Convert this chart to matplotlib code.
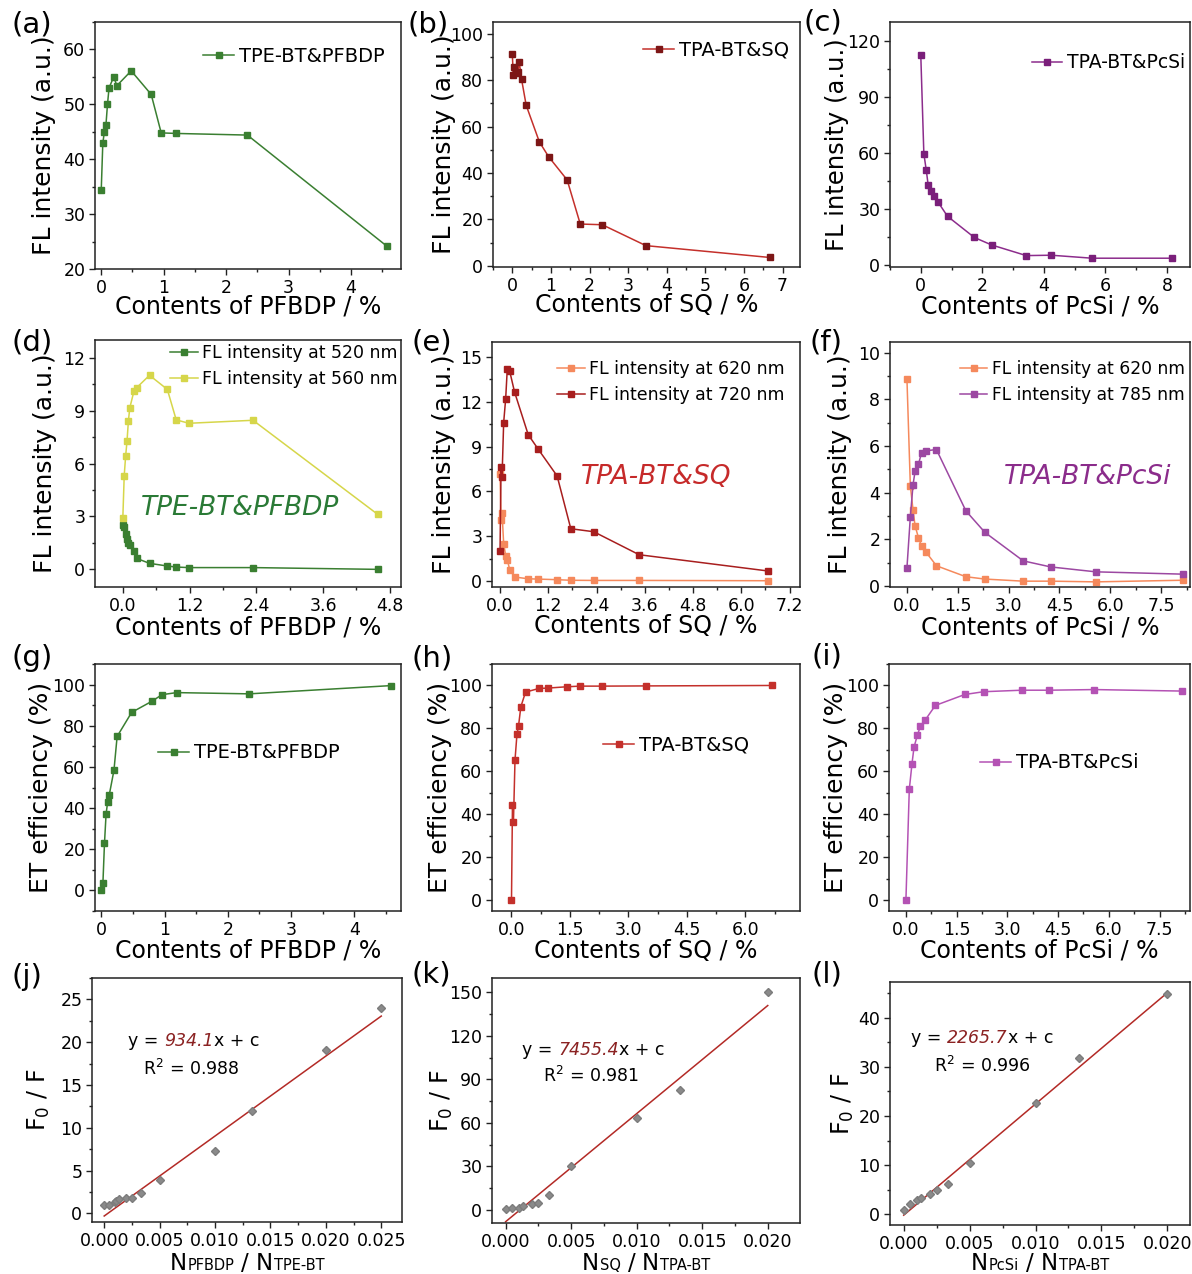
import numpy as np
import matplotlib
matplotlib.use("Agg")
import matplotlib.pyplot as plt
from matplotlib.ticker import MultipleLocator, FuncFormatter
from matplotlib.offsetbox import TextArea, HPacker, AnnotationBbox

plt.rcParams['font.family'] = ['DejaVu Sans']
plt.rcParams['mathtext.fontset'] = 'dejavusans'

W, H = 1192, 1274

# ---- values ----
# TPE-BT & PFBDP
pfbdp_content = [0, 0.025, 0.05, 0.075, 0.1, 0.125, 0.2, 0.25, 0.48, 0.8, 0.96, 1.19, 2.34, 4.58]
pfbdp_fl = [34.4, 42.9, 45.0, 46.2, 50.0, 53.0, 55.0, 53.4, 56.1, 51.8, 44.8, 44.7, 44.4, 24.1]
pfbdp_fl520 = [2.51, 2.40, 1.98, 1.70, 1.51, 1.38, 1.04, 0.62, 0.34, 0.19, 0.13, 0.10, 0.10, 0.0]
pfbdp_fl560 = [2.9, 5.3, 6.4, 7.25, 8.4, 9.15, 10.1, 10.3, 11.0, 10.2, 8.47, 8.28, 8.45, 3.12]
pfbdp_et = [0.2, 3.4, 22.9, 37.0, 43.0, 46.3, 58.4, 74.8, 86.5, 91.9, 95.1, 96.1, 95.5, 99.5]

# TPA-BT & SQ
sq_content = [0, 0.025, 0.05, 0.09, 0.14, 0.18, 0.24, 0.36, 0.70, 0.94, 1.42, 1.76, 2.33, 3.46, 6.67]
sq_fl = [91.1, 82.3, 85.5, 83.0, 83.5, 87.6, 80.3, 69.1, 53.4, 47.0, 37.0, 18.0, 17.7, 8.7, 3.6]
sq_fl620 = [7.19, 4.06, 4.58, 2.5, 1.7, 1.43, 0.76, 0.27, 0.15, 0.13, 0.09, 0.05, 0.04, 0.04, 0.02]
sq_fl720 = [2.0, 7.6, 6.96, 10.6, 12.2, 14.2, 14.05, 12.66, 9.8, 8.86, 7.03, 3.5, 3.3, 1.76, 0.67]
sq_et = [0, 44.2, 36.4, 65.3, 77.2, 81.1, 90.1, 96.9, 98.6, 98.8, 99.4, 99.7, 99.7, 99.8, 100.0]

# TPA-BT & PcSi
pcsi_content = [0, 0.1, 0.18, 0.24, 0.34, 0.43, 0.57, 0.87, 1.74, 2.3, 3.43, 4.24, 5.57, 8.15]
pcsi_fl = [112.6, 59.6, 50.6, 42.9, 39.7, 36.7, 33.5, 26.1, 14.8, 10.8, 5.1, 5.3, 3.7, 3.7]
pcsi_fl620 = [8.86, 4.29, 3.24, 2.57, 2.06, 1.70, 1.43, 0.86, 0.39, 0.29, 0.20, 0.20, 0.17, 0.24]
pcsi_fl785 = [0.77, 2.96, 4.34, 4.91, 5.21, 5.70, 5.79, 5.84, 3.21, 2.29, 1.07, 0.81, 0.60, 0.50]
pcsi_et = [0, 51.6, 63.6, 71.3, 76.9, 81.1, 83.9, 90.7, 95.8, 97.1, 97.8, 97.8, 98.1, 97.4]

# Stern-Volmer plots
pfbdp_ratio = [0, 0.00045, 0.00096, 0.00111, 0.00133, 0.002, 0.0025, 0.00333, 0.005, 0.01, 0.01333, 0.02, 0.025]
pfbdp_f0f = [0.97, 0.97, 1.28, 1.48, 1.63, 1.83, 1.83, 2.4, 3.89, 7.3, 12.0, 19.1, 23.95]
sq_ratio = [0, 0.0005, 0.001, 0.00133, 0.002, 0.0025, 0.00333, 0.005, 0.01, 0.01333, 0.02]
sq_f0f = [0.9, 1.4, 1.6, 2.8, 4.2, 5.1, 10.2, 30.0, 63.7, 82.4, 150.5]
pcsi_ratio = [0, 0.0005, 0.001, 0.00133, 0.002, 0.0025, 0.00333, 0.005, 0.01, 0.01333, 0.02]
pcsi_f0f = [0.95, 2.0, 2.85, 3.3, 4.2, 5.0, 6.1, 10.5, 22.7, 31.9, 44.9]

# linear fits (slope from the labels, intercept)
fit_slopes = [934.1, 7455.4, 2265.7]
fit_intercepts = [-0.3, -8.1, -0.2]
fit_r2 = ['0.988', '0.981', '0.996']

GREEN = '#3a7f31'
YELLOW = '#d6d64a'
ORANGE = '#f5895c'
MAROON = '#7d1616'
RED = '#c4302b'
DARKRED = '#a81e1e'
PURPLE = '#8c2c8c'
VIOLET = '#9c48a2'
MAGENTA = '#b452b4'
GREY = '#8a8a8a'
FITRED = '#b32a26'
AXCOL = '#222222'

fig = plt.figure(figsize=(W / 100, H / 100), dpi=100)


def px_axes(box):
    l, t, r, b = box
    return fig.add_axes([l / W, 1 - b / H, (r - l) / W, (b - t) / H])


def clean_fmt(dec):
    def f(v, pos):
        if abs(v) < 1e-12:
            v = 0.0
        return f'{v:.{dec}f}'
    return FuncFormatter(f)


def style(ax, xlim, ylim, xmaj, ymaj, xdec=0, ydec=0):
    ax.set_xlim(*xlim)
    ax.set_ylim(*ylim)
    ax.xaxis.set_major_locator(MultipleLocator(xmaj))
    ax.xaxis.set_minor_locator(MultipleLocator(xmaj / 2))
    ax.yaxis.set_major_locator(MultipleLocator(ymaj))
    ax.yaxis.set_minor_locator(MultipleLocator(ymaj / 2))
    ax.xaxis.set_major_formatter(clean_fmt(xdec))
    ax.yaxis.set_major_formatter(clean_fmt(ydec))
    ax.tick_params(which='both', direction='out', top=False, right=False,
                   width=1.0, color=AXCOL, labelsize=12.5, pad=2.5)
    ax.tick_params(which='major', length=4.5)
    ax.tick_params(which='minor', length=2.5)
    for sp in ax.spines.values():
        sp.set_linewidth(1.1)
        sp.set_color(AXCOL)


def ylab(ax, box, ylabel, yl_x, fsy=18):
    l, t, r, b = box
    ax.set_ylabel(ylabel, fontsize=fsy, va='center')
    ax.yaxis.set_label_coords((yl_x - l) / (r - l), 0.5)


def labels(ax, box, xlabel, xl_y, ylabel, yl_x, fsx=17, fsy=18):
    l, t, r, b = box
    ax.set_xlabel(xlabel, fontsize=fsx, va='center')
    ax.xaxis.set_label_coords(0.5, (b - xl_y) / (b - t))
    ylab(ax, box, ylabel, yl_x, fsy)


def ratio_xlabel(box, sub1, sub2, y_px):
    big = dict(fontsize=16.5)
    small = dict(fontsize=10.5)
    num = HPacker(children=[TextArea('N', textprops=big), TextArea(sub1, textprops=small)],
                  align='baseline', pad=0, sep=0.5)
    den = HPacker(children=[TextArea('N', textprops=big), TextArea(sub2, textprops=small)],
                  align='baseline', pad=0, sep=0.5)
    packed = HPacker(children=[num, TextArea('/', textprops=big), den],
                     align='baseline', pad=0, sep=5)
    xc = (box[0] + box[2]) / 2
    ab = AnnotationBbox(packed, (xc / W, 1 - y_px / H), xycoords='figure fraction',
                        frameon=False, box_alignment=(0.5, 0.5), pad=0)
    fig.add_artist(ab)


def series(ax, x, y, color, mcolor=None, label=None):
    mc = mcolor or color
    ax.plot(x, y, '-s', color=color, mfc=mc, mec=mc, ms=4.8, lw=1.1, label=label)


def legend(ax, x_px, y_px, fs):
    ax.legend(loc='center left', bbox_to_anchor=(x_px / W, 1 - y_px / H),
              bbox_transform=fig.transFigure, frameon=False, fontsize=fs,
              handlelength=1.6, handletextpad=0.25, borderpad=0,
              borderaxespad=0, labelspacing=0.45)


def panel_tag(tag, x_px, y_px):
    fig.text(x_px / W, 1 - y_px / H, tag, fontsize=21, ha='left', va='center')


def fit_text(ax, x_px, base1, slope_str, r2_x, base2, r2_str):
    fs = 12.5
    y1 = 1 - base1 / H
    t1 = ax.annotate('y =', xy=(x_px / W, y1), xycoords='figure fraction',
                     va='baseline', ha='left', fontsize=fs)
    t2 = ax.annotate(slope_str, xy=(1, y1), xycoords=(t1, 'figure fraction'),
                     xytext=(4, 0), textcoords='offset points', va='baseline',
                     ha='left', fontsize=fs, style='italic', color='#8b2222')
    ax.annotate('x + c', xy=(1, y1), xycoords=(t2, 'figure fraction'),
                xytext=(0.5, 0), textcoords='offset points', va='baseline',
                ha='left', fontsize=fs)
    ax.annotate(r'R$^2$ = ' + r2_str, xy=(r2_x / W, 1 - base2 / H),
                xycoords='figure fraction', va='baseline', ha='left', fontsize=fs)


FL = 'FL intensity (a.u.)'
ET = 'ET efficiency (%)'

# ---------- row 1 ----------
box = (95, 22, 401, 269)
ax = px_axes(box)
series(ax, pfbdp_content, pfbdp_fl, GREEN, label='TPE-BT&PFBDP')
style(ax, (-0.1, 4.8), (20, 65), 1, 10)
labels(ax, box, 'Contents of PFBDP / %', 307, FL, 44)
legend(ax, 203, 56, 14)
panel_tag('(a)', 11, 25)

box = (493, 22, 800, 267)
ax = px_axes(box)
series(ax, sq_content, sq_fl, RED, MAROON, label='TPA-BT&SQ')
style(ax, (-0.5, 7.45), (-0.5, 105), 1, 20)
labels(ax, box, 'Contents of SQ / %', 305, FL, 444)
legend(ax, 643, 50, 14)
panel_tag('(b)', 408, 24)

box = (890, 22, 1190, 267)
ax = px_axes(box)
series(ax, pcsi_content, pcsi_fl, PURPLE, '#7a1f7a', label='TPA-BT&PcSi')
style(ax, (-1, 8.75), (-1, 130), 2, 30)
labels(ax, box, 'Contents of PcSi / %', 307, FL, 837, fsy=17.5)
legend(ax, 1032, 63, 13.5)
panel_tag('(c)', 804, 23)

# ---------- row 2 ----------
box = (95, 340, 401, 587)
ax = px_axes(box)
series(ax, pfbdp_content, pfbdp_fl520, GREEN, label='FL intensity at 520 nm')
series(ax, pfbdp_content, pfbdp_fl560, YELLOW, label='FL intensity at 560 nm')
style(ax, (-0.5, 5.0), (-1, 13), 1.2, 3, xdec=1)
labels(ax, box, 'Contents of PFBDP / %', 627, FL, 45)
legend(ax, 170, 366, 12.5)
ax.text(240 / W, 1 - 508 / H, 'TPE-BT&PFBDP', transform=fig.transFigure,
        fontsize=19, style='italic', color='#2a7a36', ha='center', va='center')
panel_tag('(d)', 11, 342)

box = (492, 342, 800, 587)
ax = px_axes(box)
series(ax, sq_content, sq_fl620, ORANGE, label='FL intensity at 620 nm')
series(ax, sq_content, sq_fl720, DARKRED, label='FL intensity at 720 nm')
style(ax, (-0.2, 7.46), (-0.4, 16), 1.2, 3, xdec=1)
labels(ax, box, 'Contents of SQ / %', 626, FL, 444)
legend(ax, 557, 382, 12.5)
ax.text(656 / W, 1 - 477 / H, 'TPA-BT&SQ', transform=fig.transFigure,
        fontsize=19, style='italic', color='#c62a2a', ha='center', va='center')
panel_tag('(e)', 412, 342)

box = (890, 342, 1190, 587)
ax = px_axes(box)
series(ax, pcsi_content, pcsi_fl620, ORANGE, label='FL intensity at 620 nm')
series(ax, pcsi_content, pcsi_fl785, VIOLET, label='FL intensity at 785 nm')
style(ax, (-0.5, 8.35), (-0.05, 10.45), 1.5, 2, xdec=1)
labels(ax, box, 'Contents of PcSi / %', 627, FL, 840)
legend(ax, 960, 382, 12.3)
ax.text(1088 / W, 1 - 477 / H, 'TPA-BT&PcSi', transform=fig.transFigure,
        fontsize=19, style='italic', color='#8b2c8b', ha='center', va='center')
panel_tag('(f)', 810, 342)

# ---------- row 3 ----------
box = (95, 664, 401, 911)
ax = px_axes(box)
series(ax, pfbdp_content, pfbdp_et, GREEN, label='TPE-BT&PFBDP')
style(ax, (-0.1, 4.74), (-10, 110), 1, 20)
labels(ax, box, 'Contents of PFBDP / %', 950, ET, 41)
legend(ax, 158, 753, 14)
panel_tag('(g)', 11, 658)

box = (492, 664, 800, 911)
ax = px_axes(box)
series(ax, sq_content, sq_et, RED, label='TPA-BT&SQ')
style(ax, (-0.5, 7.4), (-5, 110), 1.5, 20, xdec=1)
labels(ax, box, 'Contents of SQ / %', 951, ET, 440)
legend(ax, 603, 745, 14)
panel_tag('(h)', 411, 658)

box = (889, 664, 1190, 911)
ax = px_axes(box)
series(ax, pcsi_content, pcsi_et, MAGENTA, label='TPA-BT&PcSi')
style(ax, (-0.5, 8.4), (-5, 110), 1.5, 20, xdec=1)
labels(ax, box, 'Contents of PcSi / %', 950, ET, 836)
legend(ax, 980, 763, 14)
panel_tag('(i)', 812, 657)

# ---------- row 4 ----------
sv_sets = [
    ((92, 978, 402, 1222), pfbdp_ratio, pfbdp_f0f, (-0.0011, 0.02687), (-1, 27.5), 5,
     ('PFBDP', 'TPE-BT'), 39, '(j)', (12, 977), (128, 1046, 143, 1075)),
    ((492, 978, 800, 1223), sq_ratio, sq_f0f, (-0.00104, 0.02246), (-9, 160), 30,
     ('SQ', 'TPA-BT'), 442, '(k)', (411, 974), (522, 1055, 543, 1082)),
    ((890, 982, 1190, 1225), pcsi_ratio, pcsi_f0f, (-0.00104, 0.02172), (-2.2, 47.3), 10,
     ('PcSi', 'TPA-BT'), 843, '(l)', (812, 975), (911, 1043, 934, 1072)),
]

for i, (box, xr, yr, xl, yl, ymaj, subs, ylx, tag, tagpos, tpos) in enumerate(sv_sets):
    ax = px_axes(box)
    xr = np.array(xr)
    ax.plot(xr, yr, 'D', ls='none', color=GREY, mec='#7c7c7c', ms=4.2, zorder=3)
    fx = np.array([xr.min(), xr.max()])
    ax.plot(fx, fit_slopes[i] * fx + fit_intercepts[i], '-', color=FITRED, lw=1.1, zorder=2)
    style(ax, xl, yl, 0.005, ymaj, xdec=3)
    ylab(ax, box, r'F$_0$ / F', ylx, fsy=17)
    ratio_xlabel(box, subs[0], subs[1], 1264)
    fit_text(ax, tpos[0], tpos[1], f'{fit_slopes[i]:.1f}', tpos[2], tpos[3], fit_r2[i])
    panel_tag(tag, *tagpos)

fig.savefig('out.png', dpi=100)
